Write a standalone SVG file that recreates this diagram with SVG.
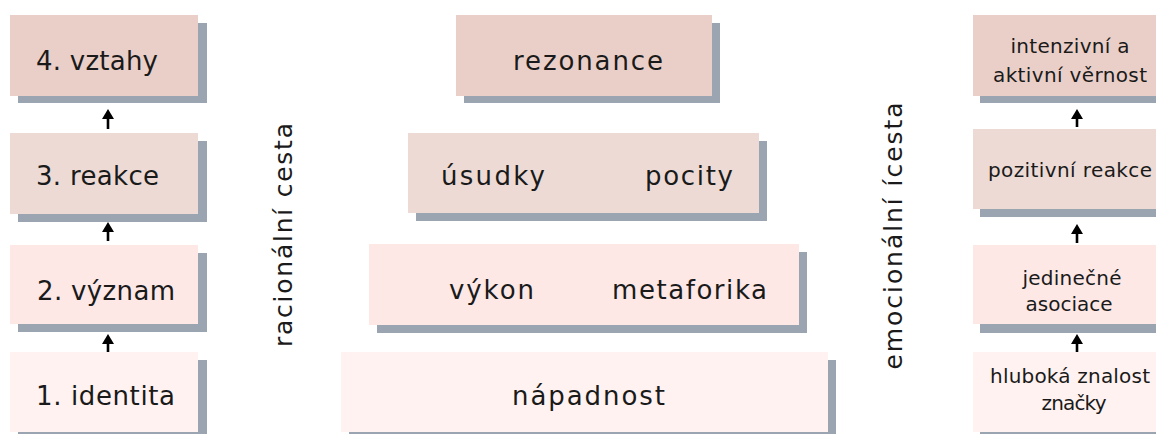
<svg xmlns="http://www.w3.org/2000/svg" width="1156" height="434" viewBox="0 0 1156 434">
<style>
.sh{fill:#9aa5b1}
.c4{fill:#eacfc8}
.c3{fill:#eddad5}
.c2{fill:#fde8e6}
.c1{fill:#fff2f0}
text{font-family:"DejaVu Sans","Open Sans",sans-serif;fill:#1a1a1a}
.big{font-size:26px}
.sm{font-size:20px;text-anchor:middle}
.mid{text-anchor:middle}
.vert{font-size:25px;text-anchor:middle}
</style>
<defs>
<marker id="ah" viewBox="0 0 10 12" refX="6" refY="6" markerWidth="10" markerHeight="12" markerUnits="userSpaceOnUse" orient="auto">
<path d="M0,0 L10,6 L0,12 Z" fill="#000"/>
</marker>
</defs>

<g id="left-4"><rect class="sh" x="18" y="23" width="189" height="80"/><rect class="c4" x="10" y="15" width="188" height="81"/><text class="big" x="36" y="70" textLength="122" lengthAdjust="spacing">4. vztahy</text></g>
<g id="left-3"><rect class="sh" x="18" y="141" width="189" height="81"/><rect class="c3" x="10" y="133" width="188" height="81"/><text class="big" x="36" y="185" textLength="123" lengthAdjust="spacing">3. reakce</text></g>
<g id="left-2"><rect class="sh" x="18" y="253" width="189" height="79"/><rect class="c2" x="10" y="245" width="188" height="79"/><text class="big" x="37" y="300" textLength="138" lengthAdjust="spacing">2. význam</text></g>
<g id="left-1"><rect class="sh" x="18" y="360" width="189" height="74"/><rect class="c1" x="10" y="352" width="188" height="80"/><text class="big" x="36" y="405" textLength="139" lengthAdjust="spacing">1. identita</text></g>

<g id="label-rational"><text class="vert" transform="translate(292,235) rotate(-90)" textLength="224" lengthAdjust="spacing">racionální cesta</text></g>

<g id="mid-rezonance"><rect class="sh" x="464" y="23" width="256" height="80"/><rect class="c4" x="456" y="15" width="256" height="81"/><text class="big mid" x="588" y="70" textLength="150" lengthAdjust="spacing">rezonance</text></g>
<g id="mid-usudky-pocity"><rect class="sh" x="416" y="141" width="351" height="80"/><rect class="c3" x="408" y="133" width="351" height="80"/><text class="big mid" x="493" y="185" textLength="104" lengthAdjust="spacing">úsudky</text><text class="big mid" x="689" y="185" textLength="88" lengthAdjust="spacing">pocity</text></g>
<g id="mid-vykon-metaforika"><rect class="sh" x="377" y="252" width="430" height="81"/><rect class="c2" x="369" y="244" width="430" height="81"/><text class="big mid" x="491.5" y="299" textLength="85" lengthAdjust="spacing">výkon</text><text class="big mid" x="689.5" y="299" textLength="155" lengthAdjust="spacing">metaforika</text></g>
<g id="mid-napadnost"><rect class="sh" x="349" y="360" width="487" height="74"/><rect class="c1" x="341" y="352" width="487" height="80"/><text class="big mid" x="588.5" y="405" textLength="153" lengthAdjust="spacing">nápadnost</text></g>

<g id="label-emotional"><text class="vert" transform="translate(902,236) rotate(-90)" textLength="267" lengthAdjust="spacing">emocionální ícesta</text></g>

<g id="right-4"><rect class="sh" x="980" y="23" width="190" height="80"/><rect class="c4" x="973" y="15" width="190" height="81"/><text class="sm" x="1070" y="53" textLength="119" lengthAdjust="spacing">intenzivní a</text><text class="sm" x="1070" y="82" textLength="154" lengthAdjust="spacing">aktivní věrnost</text></g>
<g id="right-3"><rect class="sh" x="980" y="137" width="190" height="80"/><rect class="c3" x="973" y="129" width="190" height="80"/><text class="sm" x="1070" y="177" textLength="164" lengthAdjust="spacing">pozitivní reakce</text></g>
<g id="right-2"><rect class="sh" x="980" y="253" width="190" height="80"/><rect class="c2" x="973" y="245" width="190" height="79"/><text class="sm" x="1072" y="285" textLength="99" lengthAdjust="spacing">jedinečné</text><text class="sm" x="1069" y="311" textLength="87" lengthAdjust="spacing">asociace</text></g>
<g id="right-1"><rect class="sh" x="980" y="360" width="190" height="74"/><rect class="c1" x="973" y="352" width="190" height="80"/><text class="sm" x="1070" y="383" textLength="160" lengthAdjust="spacing">hluboká znalost</text><text class="sm" x="1074" y="410" textLength="65" lengthAdjust="spacing">značky</text></g>

<g id="connectors" stroke="#000" stroke-width="2.6" fill="none">
<line x1="108" y1="129" x2="108" y2="113" marker-end="url(#ah)"/>
<line x1="108" y1="241" x2="108" y2="226" marker-end="url(#ah)"/>
<line x1="108" y1="352" x2="108" y2="338" marker-end="url(#ah)"/>
<line x1="1077" y1="127" x2="1077" y2="113" marker-end="url(#ah)"/>
<line x1="1077" y1="243" x2="1077" y2="228" marker-end="url(#ah)"/>
<line x1="1077" y1="352" x2="1077" y2="338" marker-end="url(#ah)"/>
</g>
</svg>
